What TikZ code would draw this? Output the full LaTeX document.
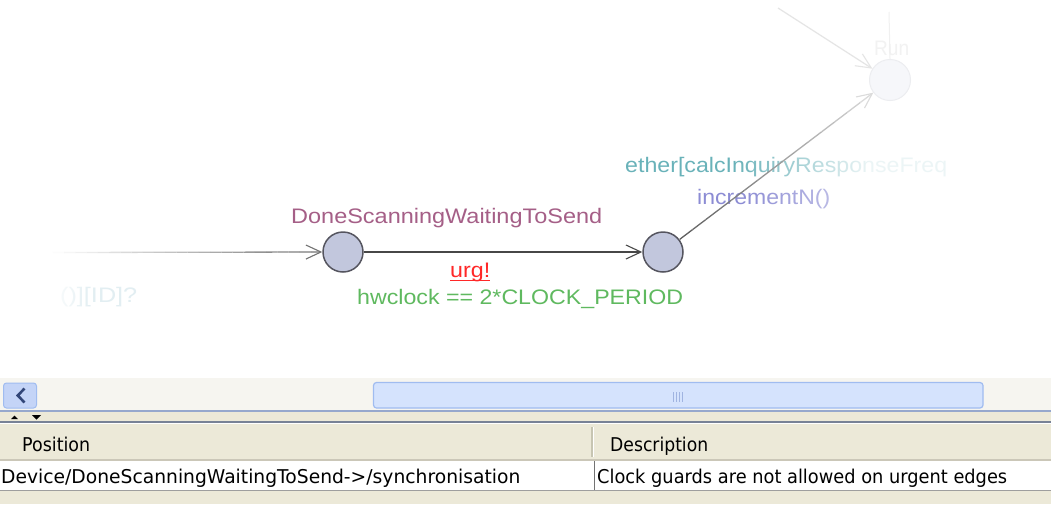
\documentclass[tikz,border=0pt]{standalone}
\usepackage{fontspec}
\setmainfont{Liberation Sans}
\newfontfamily\uifont{DejaVu Sans}
\usetikzlibrary{arrows.meta,calc,fadings}
% automaton colours
\definecolor{locfill}{RGB}{194,199,221}
\definecolor{locline}{RGB}{85,85,95}
\definecolor{namecol}{RGB}{165,95,135}
\definecolor{synccol}{RGB}{255,40,40}
\definecolor{guardcol}{RGB}{95,185,95}
\definecolor{selcol}{RGB}{105,178,185}
\definecolor{updcol}{RGB}{140,140,212}
\definecolor{recvcol}{RGB}{226,238,242}
\definecolor{paleloc}{RGB}{246,247,250}
\definecolor{palerim}{RGB}{236,237,240}
% problem panel colours
\definecolor{paneltan}{RGB}{236,233,216}
\definecolor{tracklight}{RGB}{246,245,240}
\definecolor{thumbfill}{RGB}{213,227,253}
\definecolor{thumbline}{RGB}{160,188,240}
\definecolor{gripcol}{RGB}{160,180,225}
\definecolor{btnfill}{RGB}{196,212,247}
\definecolor{btnglyph}{RGB}{50,70,120}
\definecolor{splitline}{RGB}{120,130,150}
\definecolor{trackedge}{RGB}{150,168,205}
\definecolor{headshade}{RGB}{203,199,184}
\definecolor{colsep}{RGB}{199,197,178}
\tikzfading[name=fadeTail, left color=transparent!100, right color=transparent!12]
\tikzfading[name=fadeSoft, left color=transparent!100, right color=transparent!55]
\tikzfading[name=fadeHead, left color=transparent!0, right color=transparent!100]
\begin{document}
\begin{tikzpicture}[x=1pt,y=-1pt,
  loc/.style={circle,draw=locline,fill=locfill,line width=1.5pt,minimum size=40pt,inner sep=0pt},
  ghostloc/.style={circle,draw=palerim,fill=paleloc,line width=1pt,minimum size=41pt,inner sep=0pt},
  gtext/.style={inner sep=0pt,anchor=base west,font=\fontsize{21}{21}\selectfont},
  uitext/.style={inner sep=0pt,anchor=base west,font=\uifont\fontsize{19}{19}\selectfont},
  barb/.style={-{Straight Barb[length=15pt,width=14pt,line width=1.1pt]}},
]
\useasboundingbox (0,0) rectangle (1051,504);
\fill[white] (0,0) rectangle (1051,378);

% ---------- locations ----------
\node[loc] (A) at (343,252) {};
\node[loc] (B) at (663,252) {};
\node[ghostloc] (C) at (890,80) {};

% ---------- labels ----------
\node[gtext,text=namecol] (nameA) at (291,223) {\resizebox{311pt}{\height}{DoneScanningWaitingToSend}};
\node[gtext,text=synccol] (sync) at (450,277) {\resizebox{40pt}{\height}{urg!}};
\draw[synccol,line width=1.2pt] ($(sync.base west)+(0,3.5)$) -- ($(sync.base east)+(0,3.5)$);
\node[gtext,text=guardcol] (guard) at (357,304) {\resizebox{326pt}{\height}{hwclock == 2*CLOCK\_PERIOD}};
\node[gtext,text=selcol] (sel) at (625,172) {\resizebox{322pt}{\height}{ether[calcInquiryResponseFreq}};
\node[gtext,text=updcol] (upd) at (697,204) {\resizebox{133pt}{\height}{incrementN()}};
\node[gtext,text=recvcol] (recv) at (60,302) {\resizebox{77pt}{\height}{()][ID]?}};
\node[gtext,text=black!5] (run) at (874,55) {\resizebox{35pt}{\height}{Run}};

% labels trailing off into the white
\fill[white,path fading=fadeTail] (735,150) rectangle (870,180);
\fill[white,opacity=0.88] (870,150) rectangle (965,180);
\fill[white,path fading=fadeSoft] (740,185) rectangle (840,212);
\fill[white,path fading=fadeHead] (48,284) rectangle (92,308);

% ---------- edges ----------
% incoming edge, fading in from the left
\coordinate (in0) at (53,252.5);
\foreach \i in {0,...,22}{
  \pgfmathsetmacro\p{55*(\i+0.5)/24}
  \pgfmathsetmacro\ta{\i/24}
  \pgfmathsetmacro\tb{(\i+1)/24}
  \draw[black!\p,line width=1.3pt] ($(in0)!\ta!(A.west)$) -- ($(in0)!\tb!(A.west)$);
}
\draw[barb,black!55,line width=1.3pt] ($(in0)!0.9583!(A.west)$) -- (A.west);

% urgent edge
\draw[barb,black!72,line width=1.8pt] (A) -- (B);

% edge towards the pale location, fading out
\coordinate (bc0) at ($(B)!21pt!(C)$);
\coordinate (bc1) at ($(C)!21pt!(B)$);
\foreach \i in {0,...,13}{
  \pgfmathsetmacro\p{64-50*(\i+0.5)/15}
  \pgfmathsetmacro\ta{\i/15}
  \pgfmathsetmacro\tb{(\i+1)/15}
  \draw[black!\p,line width=1.3pt] ($(bc0)!\ta!(bc1)$) -- ($(bc0)!\tb!(bc1)$);
}
\draw[barb,black!14,line width=1.3pt] ($(bc0)!0.9333!(bc1)$) -- (bc1);

% faint edges around the pale location
\coordinate (topin) at (778,8);
\draw[barb,black!10,line width=1.2pt] (topin) -- (C);
\coordinate (runtop) at (889,12);
\draw[black!6,line width=1pt] (runtop) -- (C.north);

% ---------- horizontal scrollbar ----------
\fill[tracklight] (0,378) rectangle (1051,411);
\draw[thumbline,fill=btnfill,rounded corners=3pt,line width=1pt] (3.5,383) rectangle (36.5,408);
\draw[btnglyph,line width=2.6pt] (24.5,388.5) -- (17.8,395.5) -- (24.5,402.5);
\draw[thumbline,fill=thumbfill,rounded corners=3pt,line width=1.2pt] (373.5,382.5) rectangle (983,408);
\foreach \gx in {673.5,676.5,679.5,682.5}{
  \draw[gripcol,line width=1pt] (\gx,392) -- (\gx,402);
}
\draw[trackedge,line width=1.2pt] (0,411) -- (1051,411);

% ---------- problem table ----------
\fill[paneltan] (0,411.6) rectangle (1051,504);
\fill[black] (11,419) -- (14.5,415.5) -- (18,419) -- cycle;
\fill[black] (32,415) -- (41,415) -- (36.5,419.5) -- cycle;
\draw[splitline,line width=1.5pt] (0,422) -- (1051,422);
\draw[white,line width=1pt] (0,423.8) -- (1051,423.8);
\draw[headshade,line width=2pt] (0,460) -- (1051,460);
\fill[white] (0,461) rectangle (1051,490);
\draw[black!38,line width=1.5pt] (0,490.5) -- (1051,490.5);
\draw[colsep,line width=1.2pt] (592,427) -- (592,457);
\draw[white,line width=1pt] (593.6,427) -- (593.6,457);
\draw[black!55,line width=1pt] (594.5,461) -- (594.5,490);

\node[uitext] (hpos) at (22,451) {\resizebox{68pt}{\height}{Position}};
\node[uitext] (hdesc) at (610,451) {\resizebox{98pt}{\height}{Description}};
\node[uitext] (rpos) at (1,483) {\resizebox{519pt}{\height}{Device/DoneScanningWaitingToSend->/synchronisation}};
\node[uitext] (rdesc) at (597,483) {\resizebox{410pt}{\height}{Clock guards are not allowed on urgent edges}};
\end{tikzpicture}
\end{document}
